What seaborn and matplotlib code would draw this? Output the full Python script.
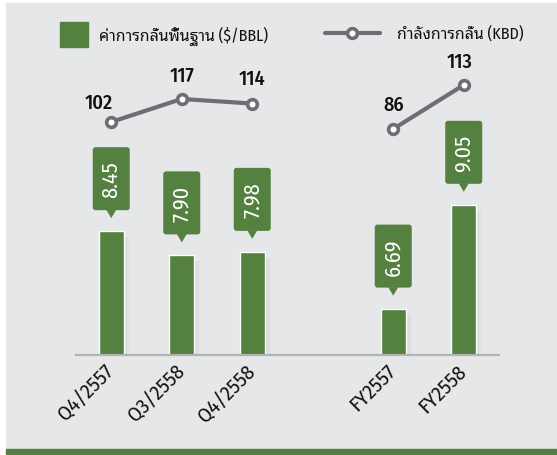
import numpy as np
import pandas as pd
import matplotlib
matplotlib.use('Agg')
import matplotlib.pyplot as plt
import matplotlib.transforms as mtransforms
import seaborn as sns
from matplotlib.patches import Rectangle, FancyBboxPatch, Polygon
from matplotlib.lines import Line2D

periods = ['Q4/2557', 'Q3/2558', 'Q4/2558', '', 'FY2557', 'FY2558']
margin_periods = ['Q4/2557', 'Q3/2558', 'Q4/2558', 'FY2557', 'FY2558']
margin = [8.45, 7.90, 7.98, 6.69, 9.05]
quarter_periods = ['Q4/2557', 'Q3/2558', 'Q4/2558']
quarter_kbd = [102, 117, 114]
year_periods = ['FY2557', 'FY2558']
year_kbd = [86, 113]
legend_bar = 'ค่าการกลั่นพื้นฐาน ($/BBL)'
legend_line = 'กำลังการกลั่น (KBD)'

green = '#548040'
grey_line = '#6d6e71'
bg = '#e6e7e8'
axis_grey = '#b1b3b5'

sns.set_style('white')
plt.rcParams['font.family'] = ['Fira Sans Condensed', 'Noto Sans Thai Looped', 'DejaVu Sans']

fig = plt.figure(figsize=(5.57, 4.56), dpi=100)
fig.patch.set_facecolor('white')
fig.add_artist(Rectangle((6 / 557, 0), 1, 452 / 456, transform=fig.transFigure, color=bg, zorder=-10))
fig.add_artist(Rectangle((6 / 557, 0), 1, 6 / 456, transform=fig.transFigure, color=green, zorder=-9))

ax = fig.add_axes([76 / 557, 100 / 456, 423 / 557, 316 / 456])
ax.set_facecolor('none')
df = pd.DataFrame({'period': margin_periods, 'margin': margin})
sns.barplot(data=df, x='period', y='margin', order=periods, color=green, width=0.355,
            saturation=1, ax=ax, zorder=3)
ax.set_ylim(5.635, 12.82)
ax.set_xlim(-0.5, 5.5)
for s in ['top', 'right', 'left']:
    ax.spines[s].set_visible(False)
ax.spines['bottom'].set_color(axis_grey)
ax.spines['bottom'].set_linewidth(1.6)
ax.spines['bottom'].set_zorder(4)
ax.set_yticks([])
ax.set_xlabel('')
ax.set_ylabel('')
ax.set_xticks(range(len(periods)))
ax.set_xticklabels(periods, rotation=45, ha='right', va='center', rotation_mode='anchor',
                   fontsize=15, color='#111111')
shift = mtransforms.ScaledTranslation(7 / 100, 0, fig.dpi_scale_trans)
for lab in ax.get_xticklabels():
    lab.set_transform(lab.get_transform() + shift)
ax.set_xticks(np.arange(-0.5, len(periods)), minor=True)
ax.tick_params(axis='x', which='major', length=0, pad=9)
ax.tick_params(axis='x', which='minor', length=5, width=1.6, color=axis_grey)

# bar shadows and callouts
px_x = 423 / 6
px_y = 316 / (12.82 - 5.635)
bw, bh, gap, tip, tw = 37 / px_x, 63 / px_y, 21 / px_y, 13 / px_y, 5 / px_x
half_bar = 0.355 / 2
for p, v in zip(margin_periods, margin):
    i = periods.index(p)
    for k in range(6):
        ax.add_patch(Rectangle((i + half_bar + k / px_x, 5.635), 1 / px_x, v - 5.635 - 6 / px_y,
                               fc='#9a9b9d', ec='none', alpha=0.2 * (1 - k / 6), zorder=2))
    ax.add_patch(FancyBboxPatch((i - bw / 2, v + gap), bw, bh,
                                boxstyle='round,pad=0,rounding_size=0.04',
                                mutation_aspect=px_x / px_y, fc=green, ec='none',
                                clip_on=False, zorder=3))
    ax.add_patch(Polygon([(i - tw, v + gap + 0.01), (i + tw, v + gap + 0.01), (i, v + tip)],
                         closed=True, fc=green, ec='none', clip_on=False, zorder=3))
    ax.text(i, v + gap + bh / 2, f'{v:.2f}', rotation=90, ha='center', va='center',
            color='white', fontsize=16, fontweight='normal', zorder=4)

# refining capacity lines
ax2 = ax.twinx()
ax3 = ax.twinx()
line_kw = dict(color=grey_line, linewidth=3, marker='o', markersize=7,
               markerfacecolor='white', markeredgecolor=grey_line, markeredgewidth=2.6)
sns.lineplot(x=[periods.index(p) for p in quarter_periods], y=quarter_kbd, ax=ax2, **line_kw)
sns.lineplot(x=[periods.index(p) for p in year_periods], y=year_kbd, ax=ax3, **line_kw)
ax2.set_ylim(-50, 156.1)
ax3.set_ylim(-52.65, 141.2)
for a in (ax2, ax3):
    a.axis('off')
label_offsets = [(-9, 14), (0, 17), (0, 18), (0, 18), (-3, 17)]
k = 0
for a, ps, vals in ((ax2, quarter_periods, quarter_kbd), (ax3, year_periods, year_kbd)):
    for p, v in zip(ps, vals):
        a.annotate(str(v), (periods.index(p), v), xytext=label_offsets[k],
                   textcoords='offset points', ha='center', va='center', fontsize=14.5,
                   fontweight='medium', color='#111111')
        k += 1

# legend
fig.add_artist(Rectangle((60 / 557, 1 - 48 / 456), 28 / 557, 25 / 456,
                         transform=fig.transFigure, color=green))
fig.text(99 / 557, 1 - 36 / 456, legend_bar, fontsize=11.5, va='center', ha='left',
         color='#111111')
fig.add_artist(Line2D([325 / 557, 380 / 557], [1 - 34 / 456, 1 - 34 / 456],
                      transform=fig.transFigure, color=grey_line, linewidth=3))
fig.add_artist(Line2D([352 / 557], [1 - 34 / 456], transform=fig.transFigure,
                      **{k2: v2 for k2, v2 in line_kw.items() if k2 != 'linewidth'}))
fig.text(397 / 557, 1 - 34 / 456, legend_line, fontsize=11.5, va='center', ha='left',
         color='#111111')

fig.savefig('out.png', dpi=100)
